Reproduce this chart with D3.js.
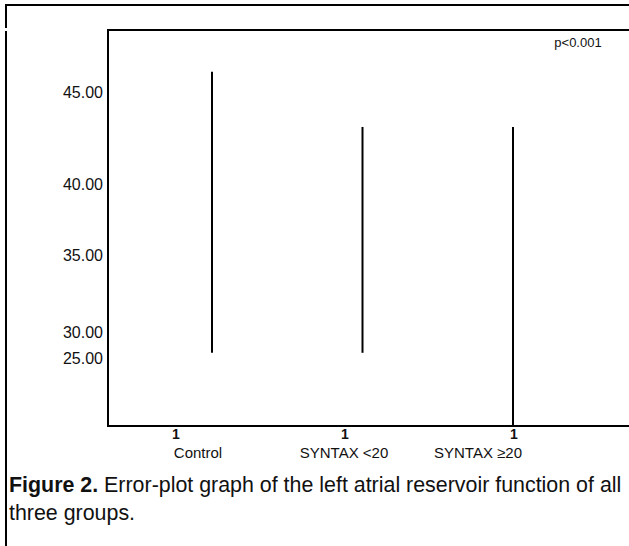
<!DOCTYPE html>
<html lang="en">
<head>
    <meta charset="UTF-8">
    <title>Error-plot graph</title>
    <script src="https://d3js.org/d3.v7.min.js"></script>
    <style>
        body { margin: 0; background: #fff; }
        text { font-family: "Liberation Sans", Arial, sans-serif; fill: #111; }
    </style>
</head>
<body>
    <script>
        // chart values
        const groups = ["Control", "SYNTAX <20", "SYNTAX \u226520"];
        const groupCodes = ["1", "1", "1"];
        const lowValues = [26.0, 26.0, 11.6];
        const highValues = [46.1, 43.1, 43.1];
        const yTicks = [25, 30, 35, 40, 45];
        const yTickLabels = ["25.00", "30.00", "35.00", "40.00", "45.00"];
        const pLabel = "p<0.001";
        const captionBold = "Figure 2.";
        const captionLine1 = " Error-plot graph of the left atrial reservoir function of all";
        const captionLine2 = "three groups.";

        const width = 629, height = 546;
        const plot = { left: 108, top: 30, right: 640, bottom: 426 };

        const svg = d3.select("body").append("svg")
            .attr("width", width)
            .attr("height", height);

        // the original axis is not evenly spaced, so use a piecewise scale
        const y = d3.scaleLinear()
            .domain(yTicks)
            .range([358, 332, 255, 184, 92]);

        const x = d3.scalePoint()
            .domain(groups)
            .range([212, 513]);

        // outer frame (small notch in the left edge as in the original)
        svg.append("path")
            .attr("d", `M6,28V5H${width}M6,31V${height}`)
            .attr("fill", "none")
            .attr("stroke", "#000")
            .attr("stroke-width", 2);

        // plot frame
        svg.append("rect")
            .attr("x", plot.left)
            .attr("y", plot.top)
            .attr("width", plot.right - plot.left)
            .attr("height", plot.bottom - plot.top)
            .attr("fill", "none")
            .attr("stroke", "#000")
            .attr("stroke-width", 2);

        // y tick labels
        svg.append("g").selectAll("text")
            .data(yTicks)
            .join("text")
            .attr("x", 103)
            .attr("y", d => y(d))
            .attr("dy", "0.35em")
            .attr("text-anchor", "end")
            .attr("font-size", 16)
            .text((d, i) => yTickLabels[i]);

        // error bars
        const clipId = "plotclip";
        svg.append("clipPath").attr("id", clipId)
            .append("rect")
            .attr("x", plot.left).attr("y", plot.top)
            .attr("width", plot.right - plot.left)
            .attr("height", plot.bottom - plot.top);

        svg.append("g")
            .attr("clip-path", `url(#${clipId})`)
            .selectAll("line")
            .data(groups)
            .join("line")
            .attr("x1", d => x(d))
            .attr("x2", d => x(d))
            .attr("y1", (d, i) => y(highValues[i]))
            .attr("y2", (d, i) => y(lowValues[i]))
            .attr("stroke", "#000")
            .attr("stroke-width", 2);

        svg.append("text")
            .attr("x", 578)
            .attr("y", 47)
            .attr("text-anchor", "middle")
            .attr("font-size", 13)
            .text(pLabel);

        // category labels (offset from the bars as in the original)
        const codeX = [176, 345, 514];
        const nameX = [198, 344, 478];

        svg.append("g").selectAll("text")
            .data(groupCodes)
            .join("text")
            .attr("x", (d, i) => codeX[i])
            .attr("y", 439)
            .attr("text-anchor", "middle")
            .attr("font-size", 14)
            .attr("font-weight", "bold")
            .text(d => d);

        svg.append("g").selectAll("text")
            .data(groups)
            .join("text")
            .attr("x", (d, i) => nameX[i])
            .attr("y", 458)
            .attr("text-anchor", "middle")
            .attr("font-size", 15)
            .text(d => d);

        // caption
        const cap = svg.append("text")
            .attr("x", 9)
            .attr("y", 492)
            .attr("font-size", 21.4);
        cap.append("tspan").attr("font-weight", "bold").text(captionBold);
        cap.append("tspan").text(captionLine1);

        svg.append("text")
            .attr("x", 9)
            .attr("y", 520)
            .attr("font-size", 21.4)
            .text(captionLine2);
    </script>
</body>
</html>
